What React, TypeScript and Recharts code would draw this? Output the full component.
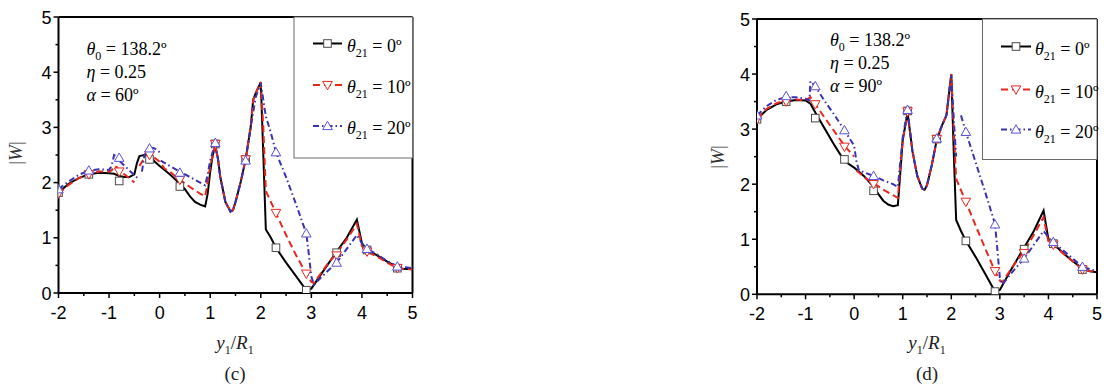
import React from "react";
import { ComposedChart, Line, XAxis, YAxis, ReferenceLine } from "recharts";

type P = [number, number | null];

// ---------- Panel (c): alpha = 60 ----------
const cBlackLine: P[] = [
  [-2, 1.82], [-1.8, 1.98], [-1.6, 2.08], [-1.4, 2.15], [-1.2, 2.18], [-1.0, 2.17], [-0.9, 2.16],
  [-0.8, 2.12], [-0.7, 2.1], [-0.6, 2.1], [-0.5, 2.15], [-0.45, 2.35], [-0.4, 2.48], [-0.3, 2.5],
  [-0.2, 2.5], [-0.15, 2.45], [-0.1, 2.38], [0, 2.3], [0.2, 2.15], [0.4, 1.98], [0.5, 1.88],
  [0.6, 1.75], [0.7, 1.65], [0.8, 1.6], [0.9, 1.57], [0.95, 1.8], [1.0, 2.2], [1.05, 2.5],
  [1.1, 2.65], [1.15, 2.45], [1.2, 2.1], [1.3, 1.65], [1.4, 1.48], [1.45, 1.5], [1.5, 1.65],
  [1.6, 2.0], [1.7, 2.42], [1.8, 3.0], [1.85, 3.5], [1.9, 3.62], [2.0, 3.82], [2.05, 2.5],
  [2.1, 1.15], [2.2, 1.0], [2.3, 0.82], [2.5, 0.55], [2.7, 0.3], [2.9, 0.05], [3.0, 0.08],
  [3.2, 0.35], [3.5, 0.75], [3.7, 1.0], [3.9, 1.33], [4.0, 0.9], [4.1, 0.78], [4.3, 0.68],
  [4.5, 0.57], [4.7, 0.47], [4.8, 0.44], [5.0, 0.43],
];
const cRedLine: P[] = [
  [-2, 1.8], [-1.8, 1.96], [-1.6, 2.08], [-1.4, 2.15], [-1.2, 2.2], [-1.0, 2.2], [-0.95, 2.22],
  [-0.9, 2.3], [-0.85, 2.28], [-0.8, 2.22], [-0.7, 2.15], [-0.6, 2.08], [-0.5, 2.0], [-0.45, null],
  [-0.4, 2.3], [-0.3, 2.45], [-0.2, 2.52], [-0.1, 2.45], [0, 2.38], [0.1, 2.25], [0.2, 2.2],
  [0.4, 2.05], [0.6, 1.92], [0.8, 1.8], [0.9, 1.75], [0.95, 2.0], [1.0, 2.3], [1.1, 2.68],
  [1.15, 2.45], [1.2, 2.1], [1.3, 1.65], [1.4, 1.48], [1.45, 1.5], [1.5, 1.65], [1.6, 2.0],
  [1.7, 2.42], [1.8, 3.0], [1.85, 3.5], [1.9, 3.62], [2.0, 3.82], [2.05, 3.0], [2.1, 1.85],
  [2.3, 1.45], [2.5, 1.05], [2.7, 0.68], [2.9, 0.35], [3.0, 0.2], [3.05, 0.18], [3.3, 0.5],
  [3.5, 0.72], [3.7, 0.97], [3.9, 1.25], [4.0, 0.85], [4.1, 0.75], [4.3, 0.66], [4.5, 0.55],
  [4.7, 0.45], [5.0, 0.43],
];
const cBlueLine: P[] = [
  [-2, 1.88], [-1.8, 2.02], [-1.6, 2.14], [-1.4, 2.22], [-1.2, 2.24], [-1.0, 2.23], [-0.95, 2.3],
  [-0.9, 2.5], [-0.85, 2.48], [-0.8, 2.4], [-0.6, 2.22], [-0.4, 2.05], [-0.37, null],
  [-0.35, 2.2], [-0.3, 2.5], [-0.2, 2.64], [-0.1, 2.62], [0, 2.55], [0.01, null],
  [0.02, 2.4], [0.2, 2.3], [0.4, 2.2], [0.6, 2.1], [0.8, 2.0], [0.9, 1.95], [0.95, 2.15],
  [1.0, 2.4], [1.1, 2.72], [1.15, 2.45], [1.2, 2.1], [1.3, 1.65], [1.4, 1.47], [1.45, 1.5],
  [1.5, 1.65], [1.6, 2.0], [1.7, 2.4], [1.8, 3.0], [1.9, 3.55], [2.0, 3.8], [2.05, 3.5],
  [2.1, 3.2], [2.2, 2.9], [2.3, 2.55], [2.5, 2.1], [2.7, 1.6], [2.9, 1.08], [2.95, 0.7],
  [3.0, 0.3], [3.05, 0.15], [3.3, 0.38], [3.5, 0.55], [3.7, 0.8], [3.9, 1.05], [4.0, 0.9],
  [4.1, 0.8], [4.3, 0.7], [4.5, 0.58], [4.7, 0.48], [5.0, 0.45],
];
const markerX = [-2, -1.4, -0.8, -0.2, 0.4, 1.1, 1.7, 2.3, 2.9, 3.5, 4.1, 4.7];
const cBlackMarks = [1.82, 2.15, 2.03, 2.42, 1.93, 2.7, 2.42, 0.82, 0.05, 0.73, 0.78, 0.45];
const cRedMarks = [1.8, 2.15, 2.2, 2.5, 2.05, 2.7, 2.42, 1.45, 0.35, 0.68, 0.75, 0.45];
const cBlueMarks = [1.88, 2.22, 2.45, 2.62, 2.18, 2.72, 2.4, 2.55, 1.08, 0.55, 0.8, 0.48];

// ---------- Panel (d): alpha = 90 ----------
const dBlackLine: P[] = [
  [-2, 3.18], [-1.8, 3.35], [-1.6, 3.45], [-1.4, 3.5], [-1.2, 3.53], [-1.0, 3.52], [-0.9, 3.46],
  [-0.8, 3.3], [-0.6, 3.0], [-0.4, 2.7], [-0.2, 2.42], [0, 2.3], [0.2, 2.15], [0.4, 1.95],
  [0.5, 1.82], [0.6, 1.7], [0.7, 1.63], [0.8, 1.6], [0.9, 1.62], [0.95, 2.2], [1.0, 2.8],
  [1.1, 3.3], [1.2, 2.6], [1.3, 2.15], [1.4, 1.92], [1.45, 1.9], [1.5, 1.98], [1.6, 2.35],
  [1.7, 2.8], [1.8, 3.05], [1.9, 3.25], [2.0, 4.0], [2.05, 2.6], [2.1, 1.35], [2.2, 1.15],
  [2.3, 0.97], [2.5, 0.68], [2.7, 0.37], [2.9, 0.05], [3.0, 0.08], [3.2, 0.4], [3.5, 0.85],
  [3.7, 1.15], [3.9, 1.52], [4.0, 1.0], [4.1, 0.92], [4.3, 0.75], [4.5, 0.6], [4.7, 0.47],
  [4.85, 0.42], [5.0, 0.4],
];
const dRedLine: P[] = [
  [-2, 3.2], [-1.8, 3.37], [-1.6, 3.47], [-1.4, 3.52], [-1.2, 3.54], [-1.0, 3.52], [-0.9, 3.58],
  [-0.8, 3.45], [-0.6, 3.2], [-0.4, 2.95], [-0.2, 2.7], [0, 2.5], [0.03, null],
  [0.05, 2.25], [0.2, 2.13], [0.4, 2.02], [0.6, 1.9], [0.8, 1.8], [0.9, 1.75], [0.95, 2.3],
  [1.0, 2.8], [1.1, 3.3], [1.2, 2.6], [1.3, 2.15], [1.4, 1.92], [1.45, 1.9], [1.5, 1.98],
  [1.6, 2.35], [1.7, 2.8], [1.8, 3.05], [1.9, 3.25], [2.0, 4.0], [2.05, 3.0], [2.1, 2.1],
  [2.3, 1.68], [2.5, 1.25], [2.7, 0.83], [2.9, 0.42], [3.0, 0.25], [3.05, 0.22], [3.3, 0.55],
  [3.5, 0.78], [3.7, 1.08], [3.9, 1.4], [4.0, 0.95], [4.1, 0.9], [4.3, 0.74], [4.5, 0.6],
  [4.7, 0.45], [5.0, 0.4],
];
const dBlueLine: P[] = [
  [-2, 3.25], [-1.8, 3.42], [-1.6, 3.53], [-1.4, 3.58], [-1.2, 3.58], [-1.0, 3.55], [-0.92, 3.52],
  [-0.9, 3.87], [-0.8, 3.78], [-0.6, 3.5], [-0.4, 3.25], [-0.2, 2.98], [0, 2.7], [0.05, 2.4],
  [0.1, 2.25], [0.4, 2.15], [0.6, 2.07], [0.8, 2.0], [0.9, 1.95], [0.95, 2.4], [1.0, 2.85],
  [1.1, 3.35], [1.2, 2.6], [1.3, 2.15], [1.4, 1.92], [1.45, 1.9], [1.5, 1.98], [1.6, 2.35],
  [1.7, 2.82], [1.8, 3.05], [1.9, 3.25], [2.0, 3.98], [2.05, 3.2], [2.1, 2.5], [2.15, null],
  [2.2, 3.25], [2.3, 2.95], [2.5, 2.4], [2.7, 1.85], [2.9, 1.28], [2.95, 0.8], [3.0, 0.3],
  [3.05, 0.18], [3.3, 0.45], [3.5, 0.65], [3.7, 0.9], [3.9, 1.15], [4.05, 0.98], [4.1, 0.95],
  [4.3, 0.8], [4.5, 0.65], [4.7, 0.5], [5.0, 0.42],
];
const dBlackMarks = [3.18, 3.5, 3.2, 2.45, 1.88, 3.33, 2.82, 0.97, 0.05, 0.82, 0.92, 0.45];
const dRedMarks = [3.18, 3.5, 3.45, 2.68, 2.0, 3.32, 2.82, 1.68, 0.42, 0.75, 0.9, 0.45];
const dBlueMarks = [3.25, 3.6, 3.78, 2.98, 2.15, 3.35, 2.83, 2.95, 1.27, 0.65, 0.95, 0.5];

const xTicks = [-2, -1.5, -1, -0.5, 0, 0.5, 1, 1.5, 2, 2.5, 3, 3.5, 4, 4.5, 5];
const yTicks = [0, 0.5, 1, 1.5, 2, 2.5, 3, 3.5, 4, 4.5, 5];

const BLACK = "#000000";
const RED = "#e8281e";
const BLUE = "#3a32b0";
const SERIF = "'Liberation Serif', 'Times New Roman', serif";
const SANS = "'Liberation Sans', Arial, sans-serif";

const toPts = (arr: P[]) => arr.map(([x, y]) => ({ x, y }));
const toMarks = (ys: number[]) => ys.map((y, i) => ({ x: markerX[i], y }));

const XTick = (props: any) => {
  const { x, y, payload } = props;
  const v = payload.value;
  const major = Number.isInteger(v);
  return (
    <g>
      <line x1={x} x2={x} y1={y} y2={y + (major ? 5 : 3)} stroke="#000" strokeWidth={1.5} />
      {major && (
        <text x={x} y={y + 26} textAnchor="middle" fontSize={18} fontFamily={SANS} fill="#000">
          {String(v)}
        </text>
      )}
    </g>
  );
};

const YTick = (props: any) => {
  const { x, y, payload } = props;
  const v = payload.value;
  const major = Number.isInteger(v);
  return (
    <g>
      <line x1={x - (major ? 5 : 3)} x2={x} y1={y} y2={y} stroke="#000" strokeWidth={1.5} />
      {major && (
        <text x={x - 7} y={y + 6.5} textAnchor="end" fontSize={18} fontFamily={SANS} fill="#000">
          {String(v)}
        </text>
      )}
    </g>
  );
};

const squareDot = (props: any) => {
  const { cx, cy, index } = props;
  if (cx == null || cy == null) return <g key={`s${index}`} />;
  return (
    <rect key={`s${index}`} x={cx - 3.8} y={cy - 3.8} width={7.6} height={7.6} fill="#fff" stroke="#4a4a4a" strokeWidth={1} />
  );
};
const downDot = (props: any) => {
  const { cx, cy, index } = props;
  if (cx == null || cy == null) return <g key={`d${index}`} />;
  return (
    <polygon
      key={`d${index}`}
      points={`${cx - 4.8},${cy - 3.6} ${cx + 4.8},${cy - 3.6} ${cx},${cy + 4.8}`}
      fill="#fff"
      stroke={RED}
      strokeWidth={1}
    />
  );
};
const upDot = (props: any) => {
  const { cx, cy, index } = props;
  if (cx == null || cy == null) return <g key={`u${index}`} />;
  return (
    <polygon
      key={`u${index}`}
      points={`${cx - 4.8},${cy + 3.6} ${cx + 4.8},${cy + 3.6} ${cx},${cy - 4.8}`}
      fill="#fff"
      stroke="#5a52d8"
      strokeWidth={1}
    />
  );
};

type PanelProps = {
  width: number;
  margin: { top: number; right: number; bottom: number; left: number };
  black: P[];
  red: P[];
  blue: P[];
  blackM: number[];
  redM: number[];
  blueM: number[];
};

const Panel = ({ width, margin, black, red, blue, blackM, redM, blueM }: PanelProps) => (
  <ComposedChart width={width} height={389} margin={margin}>
    <XAxis
      dataKey="x"
      type="number"
      domain={[-2, 5]}
      ticks={xTicks}
      interval={0}
      tick={<XTick />}
      tickLine={false}
      tickSize={0}
      tickMargin={0}
      height={30}
      axisLine={{ stroke: "#000", strokeWidth: 2 }}
      allowDataOverflow
    />
    <YAxis
      type="number"
      domain={[0, 5]}
      ticks={yTicks}
      interval={0}
      tick={<YTick />}
      tickLine={false}
      tickSize={0}
      tickMargin={0}
      width={40}
      axisLine={{ stroke: "#000", strokeWidth: 2 }}
      allowDataOverflow
    />
    <ReferenceLine y={5} stroke="#000" strokeWidth={2} />
    <ReferenceLine x={5} stroke="#000" strokeWidth={2} />
    <Line data={toPts(black)} dataKey="y" type="linear" stroke={BLACK} strokeWidth={2} dot={false} isAnimationActive={false} connectNulls={false} />
    <Line data={toPts(red)} dataKey="y" type="linear" stroke={RED} strokeWidth={2} strokeDasharray="7 4" dot={false} isAnimationActive={false} connectNulls={false} />
    <Line data={toPts(blue)} dataKey="y" type="linear" stroke={BLUE} strokeWidth={2} strokeDasharray="6 3 1.5 3" dot={false} isAnimationActive={false} connectNulls={false} />
    <Line data={toMarks(blackM)} dataKey="y" stroke="none" dot={squareDot} isAnimationActive={false} />
    <Line data={toMarks(redM)} dataKey="y" stroke="none" dot={downDot} isAnimationActive={false} />
    <Line data={toMarks(blueM)} dataKey="y" stroke="none" dot={upDot} isAnimationActive={false} />
  </ComposedChart>
);

const Theta21 = ({ x, y, val }: { x: number; y: number; val: string }) => (
  <text x={x} y={y} fontFamily={SERIF} fontSize={18} fill="#000">
    <tspan fontStyle="italic">θ</tspan>
    <tspan dy={5} fontSize={12}>21</tspan>
    <tspan dy={-5}>{` = ${val}º`}</tspan>
  </text>
);

const LegendBox = ({ x, y, w, h, lineX1, lineX2, textX, rows }: any) => (
  <g>
    <rect x={x} y={y} width={w} height={h} fill="#fff" stroke="#6a6a6a" strokeWidth={1} />
    {/* row 1 */}
    <line x1={lineX1} x2={lineX2} y1={rows[0]} y2={rows[0]} stroke={BLACK} strokeWidth={2} />
    <rect x={(lineX1 + lineX2) / 2 - 3.8} y={rows[0] - 3.8} width={7.6} height={7.6} fill="#fff" stroke="#4a4a4a" strokeWidth={1} />
    <Theta21 x={textX} y={rows[0] + 8} val="0" />
    {/* row 2 */}
    <line x1={lineX1} x2={lineX2} y1={rows[1]} y2={rows[1]} stroke={RED} strokeWidth={2} strokeDasharray="7 4" />
    <polygon
      points={`${(lineX1 + lineX2) / 2 - 4.8},${rows[1] - 3.6} ${(lineX1 + lineX2) / 2 + 4.8},${rows[1] - 3.6} ${(lineX1 + lineX2) / 2},${rows[1] + 4.8}`}
      fill="#fff"
      stroke={RED}
      strokeWidth={1}
    />
    <Theta21 x={textX} y={rows[1] + 8} val="10" />
    {/* row 3 */}
    <line x1={lineX1} x2={lineX2} y1={rows[2]} y2={rows[2]} stroke={BLUE} strokeWidth={2} strokeDasharray="6 3 1.5 3" />
    <polygon
      points={`${(lineX1 + lineX2) / 2 - 4.8},${rows[2] + 3.6} ${(lineX1 + lineX2) / 2 + 4.8},${rows[2] + 3.6} ${(lineX1 + lineX2) / 2},${rows[2] - 4.8}`}
      fill="#fff"
      stroke="#5a52d8"
      strokeWidth={1}
    />
    <Theta21 x={textX} y={rows[2] + 8} val="20" />
  </g>
);

const Params = ({ x, y, alpha }: { x: number; y: number; alpha: string }) => (
  <g fontFamily={SERIF} fontSize={18} fill="#000">
    <text x={x} y={y}>
      <tspan fontStyle="italic">θ</tspan>
      <tspan dy={5} fontSize={12}>0</tspan>
      <tspan dy={-5}>{" = 138.2º"}</tspan>
    </text>
    <text x={x} y={y + 23}>
      <tspan fontStyle="italic">η</tspan>
      <tspan>{" = 0.25"}</tspan>
    </text>
    <text x={x} y={y + 46}>
      <tspan fontStyle="italic">α</tspan>
      <tspan>{` = ${alpha}º`}</tspan>
    </text>
  </g>
);

const AxisTitles = ({ cx, yx, yy, tag }: { cx: number; yx: number; yy: number; tag: string }) => (
  <g fontFamily={SERIF} fontSize={19} fill="#333">
    <text x={yx} y={yy} textAnchor="middle" transform={`rotate(-90 ${yx} ${yy})`}>
      |<tspan fontStyle="italic">W</tspan>|
    </text>
    <text x={cx} y={349} textAnchor="middle" fill="#222">
      <tspan fontStyle="italic">y</tspan>
      <tspan dy={5} fontSize={12}>1</tspan>
      <tspan dy={-5}>/</tspan>
      <tspan fontStyle="italic">R</tspan>
      <tspan dy={5} fontSize={12}>1</tspan>
    </text>
    <text x={cx} y={380} textAnchor="middle" fill="#222">{tag}</text>
  </g>
);

export default function App() {
  return (
    <div style={{ position: "absolute", left: 0, top: 0, width: 1107, height: 389, background: "#fff", overflow: "hidden" }}>
      <div style={{ position: "absolute", left: 0, top: 0 }}>
        <Panel
          width={440}
          margin={{ top: 17, right: 27.5, bottom: 66, left: 18.5 }}
          black={cBlackLine}
          red={cRedLine}
          blue={cBlueLine}
          blackM={cBlackMarks}
          redM={cRedMarks}
          blueM={cBlueMarks}
        />
      </div>
      <div style={{ position: "absolute", left: 700, top: 0 }}>
        <Panel
          width={407}
          margin={{ top: 19, right: 10, bottom: 64.7, left: 17 }}
          black={dBlackLine}
          red={dRedLine}
          blue={dBlueLine}
          blackM={dBlackMarks}
          redM={dRedMarks}
          blueM={dBlueMarks}
        />
      </div>
      <svg width={1107} height={389} style={{ position: "absolute", left: 0, top: 0, pointerEvents: "none" }}>
        <LegendBox x={294} y={17} w={118.5} h={141} lineX1={313} lineX2={342} textX={347} rows={[43.5, 85, 126]} />
        <LegendBox x={982.5} y={19} w={114.5} h={140.5} lineX1={1001} lineX2={1031} textX={1035} rows={[46.5, 89.5, 129.5]} />
        <Params x={86.5} y={55} alpha="60" />
        <Params x={830} y={46} alpha="90" />
        <AxisTitles cx={235} yx={22} yy={153} tag="(c)" />
        <AxisTitles cx={927} yx={724} yy={157} tag="(d)" />
      </svg>
    </div>
  );
}
